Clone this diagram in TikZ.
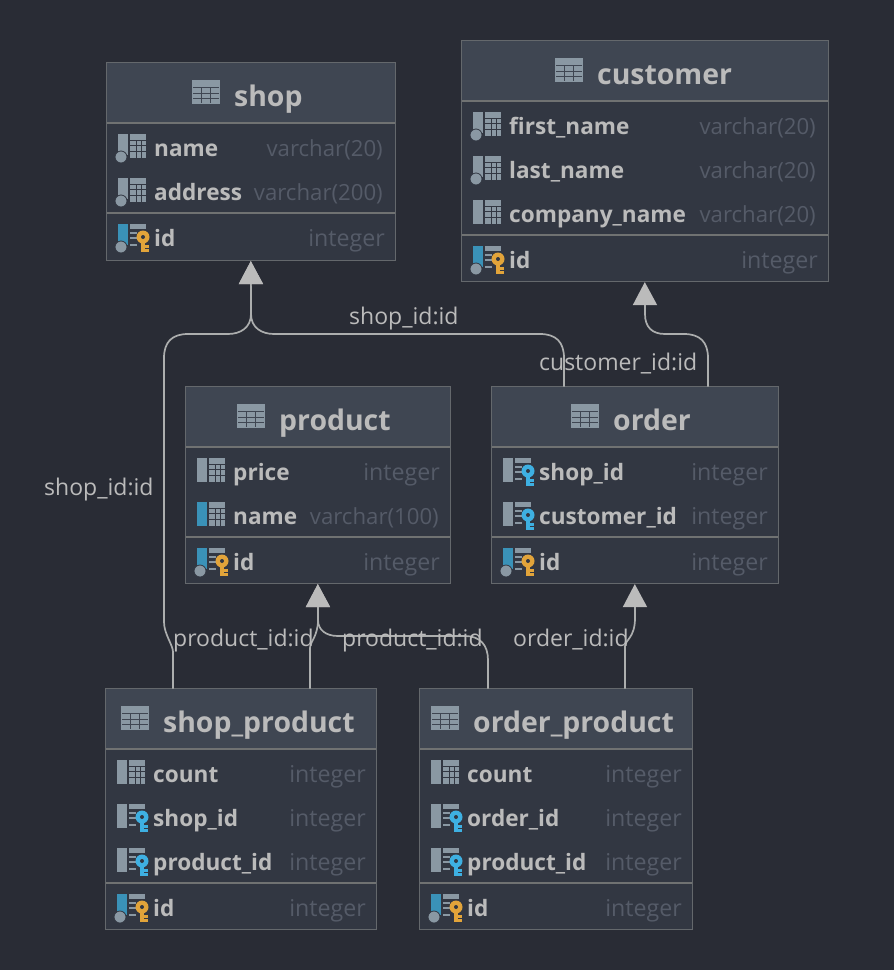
\documentclass[tikz,border=0pt]{standalone}
\usepackage{fontspec}
\setmainfont{Open Sans}
\usetikzlibrary{arrows.meta,calc}
\definecolor{bgc}{RGB}{41,44,53}
\definecolor{bodyc}{RGB}{50,55,66}
\definecolor{headc}{RGB}{63,70,82}
\definecolor{edgec}{RGB}{100,104,108}
\definecolor{sepc}{RGB}{112,114,114}
\definecolor{txtc}{RGB}{187,187,187}
\definecolor{typec}{RGB}{85,91,104}
\definecolor{linec}{RGB}{172,174,174}
\definecolor{iconc}{RGB}{138,152,163}
\definecolor{barblue}{RGB}{58,146,184}
\definecolor{keygold}{RGB}{226,164,58}
\definecolor{keyblue}{RGB}{62,176,226}
\tikzset{
 x=1pt,y=-1pt,
 tablebox/.style={draw=edgec,line width=1pt,fill=bodyc,minimum width=#1,inner sep=0pt,outer sep=0pt},
 titletext/.style={font=\fontsize{28.4}{30}\selectfont\bfseries,text=txtc,anchor=base west,inner sep=0pt},
 coltext/.style={font=\fontsize{22.6}{24}\selectfont\bfseries,text=txtc,anchor=base west,inner sep=0pt},
 typetext/.style={font=\fontsize{22.2}{24}\selectfont,text=typec,anchor=base east,inner sep=0pt},
 edgelabel/.style={font=\fontsize{23}{24}\selectfont,text=txtc,anchor=base west,inner sep=0pt},
 conn/.style={draw=linec,line width=1.7pt},
 arrowconn/.style={conn,-{Triangle[width=24pt,length=23pt,fill=txtc,color=txtc]},shorten >=1pt},
}
\newcommand{\intg}{{\fontsize{23.2}{24}\selectfont integer}}
% minitable at (x,y) size 16x24
\newcommand{\minitab}[2]{%
 \fill[iconc] (#1,#2-14) rectangle ++(16,24);
 \draw[bodyc,line width=0.7pt] (#1+6,#2-8) -- (#1+6,#2+10) (#1+11,#2-8) -- (#1+11,#2+10)
   (#1,#2-8) -- (#1+16,#2-8) (#1,#2-2.5) -- (#1+16,#2-2.5) (#1,#2+3) -- (#1+16,#2+3);
}
\newcommand{\keyglyph}[3]{% x y colour
 \fill[#3] (#1-2.2,#2+1) rectangle (#1+2.2,#2+15);
 \fill[#3] (#1+2,#2+8) rectangle (#1+5.5,#2+11);
 \fill[#3] (#1+2,#2+12) rectangle (#1+5.5,#2+15);
 \fill[#3] (#1,#2) circle (6.5);
 \fill[bodyc] (#1,#2) circle (2);
}
\newcommand{\keytab}[2]{%
 \fill[iconc] (#1,#2-14) rectangle ++(16,5);
 \fill[iconc] (#1,#2-6) rectangle ++(7,2);
 \fill[iconc] (#1,#2-1) rectangle ++(7,2);
 \fill[iconc] (#1,#2+6) rectangle ++(7,2);
}
\newcommand{\barplain}[3]{\fill[#3] (#1+1,#2-14) rectangle (#1+11,#2+10);}
\newcommand{\bardot}[3]{\fill[#3] (#1+1,#2-14) rectangle (#1+11,#2+7);
  \draw[bodyc,line width=0.8pt,fill=iconc] (#1+4,#2+9) circle (6);}
% x is left of icon, y row centre
\newcommand{\colnn}[2]{\bardot{#1}{#2}{iconc}\minitab{#1+13}{#2}}
\newcommand{\colplain}[2]{\barplain{#1}{#2}{iconc}\minitab{#1+13}{#2}}
\newcommand{\coluniq}[2]{\barplain{#1}{#2}{barblue}\minitab{#1+13}{#2}}
\newcommand{\colpk}[2]{\bardot{#1}{#2}{barblue}\keytab{#1+13}{#2}\keyglyph{#1+26}{#2-1}{keygold}}
\newcommand{\colfk}[2]{\barplain{#1}{#2}{iconc}\keytab{#1+13}{#2}\keyglyph{#1+26}{#2-1}{keyblue}}
% box: name, x0,y0,x1,y1, header bottom, separator, title icon x, title x, title
\newcommand{\dbtable}[9]{%
 \node[tablebox=#4-#2+0.6,minimum height=#5-#3+0.6,fill=bodyc] (#1) at ({(#2+#4)/2-0.2},{(#3+#5)/2-0.2}) {};
 \fill[headc] (#2,#3) rectangle (#4-0.5,#6);
 \draw[sepc,line width=1.3pt] (#2,#6) -- (#4-0.5,#6);
 \draw[sepc,line width=1.3pt] (#2,#7) -- (#4-0.5,#7);
 \fill[iconc] (#8,#3+17) rectangle ++(28,24);
 \draw[headc,line width=0.8pt] (#8+1,#3+24) -- (#8+27,#3+24) (#8+1,#3+30) -- (#8+27,#3+30) (#8+1,#3+35.5) -- (#8+27,#3+35.5)
   (#8+9.5,#3+24) -- (#8+9.5,#3+40) (#8+18.5,#3+24) -- (#8+18.5,#3+40);
 \node[titletext] (#1-title) at (#9,#3+43) {\dbtitle};
}
\newcommand{\dbtitle}{}
\newcommand{\rowtxt}[6]{% id, xtext, ybase centre, name, xtype, type
 \node[coltext] (#1-n) at (#2-1,#3+8) {#4};
 \node[typetext] (#1-t) at (#5,#3+8) {#6};
}
\begin{document}
\begin{tikzpicture}
\fill[bgc] (0,0) rectangle (894,970);
\useasboundingbox (0,0) rectangle (894,970);

% shop
\renewcommand{\dbtitle}{shop}\dbtable{shop}{107}{63}{395}{260}{123}{213}{192}{234}
\colnn{117}{148}\rowtxt{s1}{155}{148}{name}{383}{varchar(20)}
\colnn{117}{192}\rowtxt{s2}{155}{192}{address}{383}{varchar(200)}
\colpk{117}{238}\rowtxt{s3}{155}{238}{id}{385}{\intg}

% customer
\renewcommand{\dbtitle}{customer}\dbtable{customer}{462}{41}{828}{281}{101}{235}{555}{597}
\colnn{472}{126}\rowtxt{c1}{510}{126}{first\_name}{816}{varchar(20)}
\colnn{472}{170}\rowtxt{c2}{510}{170}{last\_name}{816}{varchar(20)}
\colplain{472}{214}\rowtxt{c3}{510}{214}{company\_name}{816}{varchar(20)}
\colpk{472}{260}\rowtxt{c4}{510}{260}{id}{818}{\intg}

% product
\renewcommand{\dbtitle}{product}\dbtable{product}{186}{387}{450}{583}{447}{537}{237}{279}
\colplain{196}{472}\rowtxt{p1}{234}{472}{price}{440}{\intg}
\coluniq{196}{516}\rowtxt{p2}{234}{516}{name}{439}{varchar(100)}
\colpk{196}{562}\rowtxt{p3}{234}{562}{id}{440}{\intg}

% order
\renewcommand{\dbtitle}{order}\dbtable{order}{492}{387}{778}{583}{447}{537}{571}{613}
\colfk{502}{472}\rowtxt{o1}{540}{472}{shop\_id}{768}{\intg}
\colfk{502}{516}\rowtxt{o2}{540}{516}{customer\_id}{768}{\intg}
\colpk{502}{562}\rowtxt{o3}{540}{562}{id}{768}{\intg}

% shop_product
\renewcommand{\dbtitle}{shop\_product}\dbtable{shopproduct}{106}{689}{376}{929}{749}{883}{121}{163}
\colplain{116}{774}\rowtxt{sp1}{154}{774}{count}{366}{\intg}
\colfk{116}{818}\rowtxt{sp2}{154}{818}{shop\_id}{366}{\intg}
\colfk{116}{862}\rowtxt{sp3}{154}{862}{product\_id}{366}{\intg}
\colpk{116}{908}\rowtxt{sp4}{154}{908}{id}{366}{\intg}

% order_product
\renewcommand{\dbtitle}{order\_product}\dbtable{orderproduct}{420}{689}{692}{929}{749}{883}{431}{473}
\colplain{430}{774}\rowtxt{op1}{468}{774}{count}{682}{\intg}
\colfk{430}{818}\rowtxt{op2}{468}{818}{order\_id}{682}{\intg}
\colfk{430}{862}\rowtxt{op3}{468}{862}{product\_id}{682}{\intg}
\colpk{430}{908}\rowtxt{op4}{468}{908}{id}{682}{\intg}

% connector ends on the tables
\coordinate (spL) at ($(shopproduct.north)+(-67.8,0)$);
\coordinate (spR) at ($(shopproduct.north)+(69.2,0)$);
\coordinate (opL) at ($(orderproduct.north)+(-67.8,0)$);
\coordinate (opR) at ($(orderproduct.north)+(69.2,0)$);
\coordinate (oL) at ($(order.north)+(-70.8,0)$);
\coordinate (oR) at ($(order.north)+(73.2,0)$);

% connectors
\draw[arrowconn] (spL) -- (173,652) .. controls (173,645) and (164,634) .. (164,622) -- (164,358)
   .. controls (164,342) and (172,334) .. (188,334) -- (228,334)
   .. controls (240,334) and (251,328) .. (251,314) -- (shop.south);
\draw[arrowconn] (oL) -- (564,358) .. controls (564,342) and (556,334) .. (540,334) -- (274,334)
   .. controls (262,334) and (251,328) .. (251,314) -- (shop.south);
\draw[arrowconn] (oR) -- (708,358) .. controls (708,342) and (700,334) .. (684,334) -- (665,334)
   .. controls (652,334) and (645,327) .. (645,314) -- (customer.south);
\draw[arrowconn] (spR) -- (310,648) .. controls (310,642) and (318,636) .. (318,620) -- (product.south);
\draw[arrowconn] (opL) -- (488,660) .. controls (488,645) and (480,636) .. (465,636) -- (338,636)
   .. controls (326,636) and (318,630) .. (318,620) -- (product.south);
\draw[arrowconn] (opR) -- (625,646) .. controls (625,640) and (635,638) .. (635,618) -- (order.south);

% labels
\node[edgelabel] (l1) at (349,324) {shop\_id:id};
\node[edgelabel] (l2) at (539,370) {customer\_id:id};
\node[edgelabel] (l3) at (44,495) {shop\_id:id};
\node[edgelabel] (l4) at (173,646) {product\_id:id};
\node[edgelabel] (l5) at (342,646) {product\_id:id};
\node[edgelabel] (l6) at (513,646) {order\_id:id};
\end{tikzpicture}
\end{document}
